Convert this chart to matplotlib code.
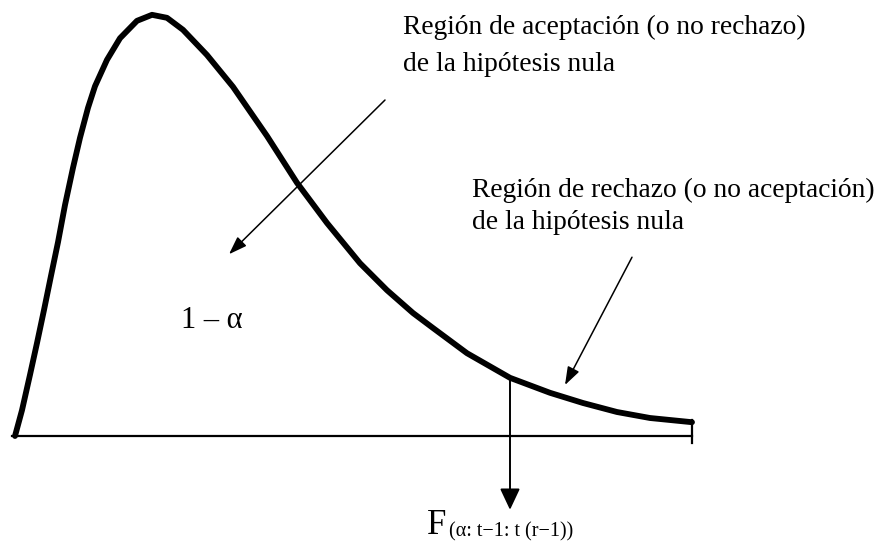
import matplotlib
matplotlib.use("Agg")
import matplotlib.pyplot as plt

# Curva tipo F (x = valor F, y = densidad)
curve_x = [0.0, 0.056, 0.12, 0.176, 0.232, 0.288, 0.344, 0.4, 0.464, 0.52,
           0.584, 0.64, 0.736, 0.84, 0.976, 1.096, 1.216, 1.344, 1.536, 1.744,
           2.016, 2.256, 2.496, 2.76, 2.976, 3.184, 3.344, 3.616, 3.96, 4.28,
           4.544, 4.816, 5.08, 5.416]
curve_y = [0.0, 0.043, 0.102, 0.155, 0.21, 0.267, 0.323, 0.385, 0.447, 0.497,
           0.547, 0.583, 0.627, 0.663, 0.692, 0.702, 0.697, 0.677, 0.635, 0.582,
           0.5, 0.422, 0.355, 0.288, 0.243, 0.205, 0.18, 0.138, 0.097, 0.072,
           0.055, 0.04, 0.03, 0.023]

f_crit = 3.96
f_crit_y = 0.097
x_end = 5.416

label_acept = ["Región de aceptación (o no rechazo)", "de la hipótesis nula"]
label_rech = ["Región de rechazo (o no aceptación)", "de la hipótesis nula"]
label_area = "1 – α"
label_f = "F"
label_f_sub = "(α: t−1: t (r−1))"

plt.rcParams["font.family"] = ["Liberation Serif", "DejaVu Serif"]

fig = plt.figure(figsize=(8.77, 5.44), dpi=100)
ax = fig.add_axes([0, 0, 1, 1])
ax.set_xlim(-0.12, 6.896)
ax.set_ylim(-0.18, 0.7267)
ax.axis("off")

# curva
ax.plot(curve_x, curve_y, color="black", lw=4.2, solid_capstyle="round",
        solid_joinstyle="round")

# eje horizontal y marca final
ax.plot([-0.024, x_end], [0, 0], color="black", lw=1.6)
ax.plot([x_end, x_end], [-0.012, 0.027], color="black", lw=1.6)

# valor crítico con flecha hacia abajo
ax.annotate("", xy=(f_crit, -0.123), xytext=(f_crit, f_crit_y),
            arrowprops=dict(arrowstyle="-|>,head_length=1.0,head_width=0.47",
                            mutation_scale=13, color="black", lw=1.4,
                            shrinkA=0, shrinkB=0))

# flechas de las regiones
ax.annotate("", xy=(1.712, 0.303), xytext=(2.96, 0.56),
            arrowprops=dict(arrowstyle="-|>,head_length=1.0,head_width=0.35",
                            mutation_scale=11, color="black", lw=1.1,
                            shrinkA=0, shrinkB=0))
ax.annotate("", xy=(4.4, 0.085), xytext=(4.936, 0.298),
            arrowprops=dict(arrowstyle="-|>,head_length=1.0,head_width=0.35",
                            mutation_scale=11, color="black", lw=1.1,
                            shrinkA=0, shrinkB=0))

# textos
ax.text(3.104, 0.67, label_acept[0], fontsize=19.8, va="baseline", ha="left")
ax.text(3.104, 0.608, label_acept[1], fontsize=19.8, va="baseline", ha="left")
ax.text(3.656, 0.398, label_rech[0], fontsize=19.8, va="baseline", ha="left")
ax.text(3.656, 0.345, label_rech[1], fontsize=19.8, va="baseline", ha="left")
ax.text(1.328, 0.18, label_area, fontsize=22, va="baseline", ha="left")
ax.text(3.296, -0.163, label_f, fontsize=25, va="baseline", ha="left")
ax.text(3.472, -0.168, label_f_sub, fontsize=14.5, va="baseline", ha="left")

fig.savefig("out.png", dpi=100, facecolor="white")
